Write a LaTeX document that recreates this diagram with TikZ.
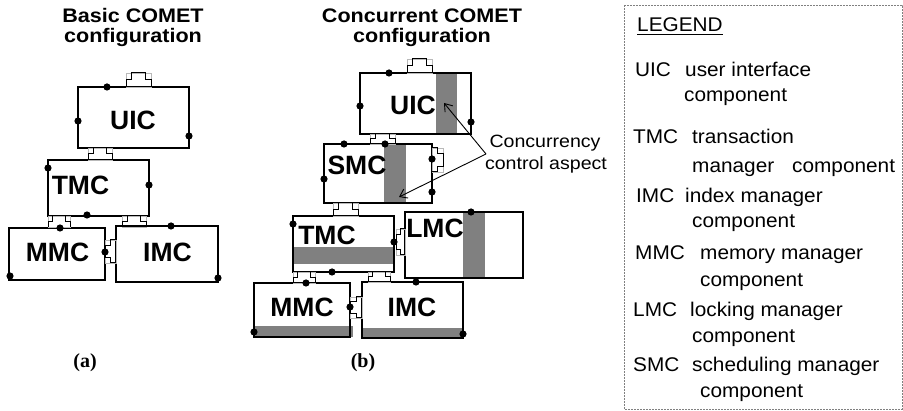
\documentclass[tikz,border=0pt]{standalone}
\usepackage{fontspec}
\usetikzlibrary{arrows.meta}
\newfontfamily\hvs[FakeStretch=1.1]{Liberation Sans}
\newfontfamily\hvl[FakeStretch=1.05]{Liberation Sans}
\newfontfamily\hvbox{Liberation Sans}
\newfontfamily\tms{Liberation Serif}
\definecolor{aspect}{RGB}{128,128,128}
\newcommand\plugup[4]{%
 \draw[plugbox] (#1,#3) rectangle (#2,#4);
 \draw[plugline] (#1,#4) -- (#1,{(#3+#4)/2}) -- ({#1+(#2-#1)*0.22},{(#3+#4)/2}) -- ({#1+(#2-#1)*0.22},#3) -- ({#2-(#2-#1)*0.22},#3) -- ({#2-(#2-#1)*0.22},{(#3+#4)/2}) -- (#2,{(#3+#4)/2}) -- (#2,#4);}
\newcommand\plugside[4]{%
 \draw[plugbox] (#1,#3) rectangle (#2,#4);
 \draw[plugline] (#1,#3) -- ({(#1+#2)/2},#3) -- ({(#1+#2)/2},{#3+(#4-#3)*0.22}) -- (#2,{#3+(#4-#3)*0.22}) -- (#2,{#4-(#4-#3)*0.22}) -- ({(#1+#2)/2},{#4-(#4-#3)*0.22}) -- ({(#1+#2)/2},#4) -- (#1,#4);}
\newcommand\compbox[5]{%
 \node[compst, minimum width={(#4-#2)*1pt}, minimum height={(#5-#3)*1pt}] (#1) at ({(#2+#4)/2},{(#3+#5)/2}) {};}
\newcommand\bdot[2]{\fill (#1,#2) circle (3.6pt);}
\begin{document}
\begin{tikzpicture}[x=1pt,y=-1pt,
  compst/.style={draw=black, line width=1.3pt, inner sep=0pt, outer sep=0pt},
  plugbox/.style={draw=gray!55, line width=0.5pt},
  plugline/.style={draw=black, line width=1pt},
  boxlabel/.style={font=\hvbox\bfseries\fontsize{26.5}{29}\selectfont, anchor=base, inner sep=0pt},
  title/.style={font=\hvs\bfseries\fontsize{19.6}{21}\selectfont, anchor=base, inner sep=0pt},
  legtext/.style={font=\hvl\fontsize{19.8}{21}\selectfont, anchor=base west, inner sep=0pt},
  sublabel/.style={font=\tms\bfseries\fontsize{20}{22}\selectfont, anchor=base, inner sep=0pt},
  aspectbar/.style={fill=aspect, draw=none}]
\useasboundingbox (0,0) rectangle (903,411);

% ---------- titles ----------
\node[title] (tA1) at (133,23) {Basic COMET};
\node[title] (tA2) at (133,43) {configuration};
\node[title] (tB1) at (422,23) {Concurrent COMET};
\node[title] (tB2) at (422,43) {configuration};

% ---------- (a) basic configuration ----------
\compbox{uicA}{78}{87}{189}{148}
\compbox{tmcA}{48}{160}{149}{216}
\compbox{mmcA}{9}{228}{105}{280}
\compbox{imcA}{116}{226}{218}{282}
\node[boxlabel] (uicAl) at (133,130) {UIC};
\node[boxlabel] (tmcAl) at (80.5,195) {TMC};
\node[boxlabel] (mmcAl) at (57.5,262) {MMC};
\node[boxlabel] (imcAl) at (167.5,262) {IMC};
\plugup{126}{151}{73}{87}
\plugup{88}{112}{148}{160}
\plugup{48}{70}{216}{227}
\plugup{122}{146}{216}{227}
\plugside{116}{105}{240}{263}
\bdot{107}{87}\bdot{78}{121}\bdot{189}{136}
\bdot{48}{168}\bdot{149}{185}\bdot{87}{215}
\bdot{60}{228}\bdot{105}{252}\bdot{10}{276}
\bdot{171}{226}\bdot{218}{278}
\node[sublabel] (subA) at (85,368) {(a)};

% ---------- (b) concurrent configuration ----------
\fill[aspectbar] (436,73) rectangle (457,134);
\fill[aspectbar] (384,144) rectangle (406,203);
\fill[aspectbar] (293,247) rectangle (394,264);
\fill[aspectbar] (463,212) rectangle (485,278);
\fill[aspectbar] (254,326) rectangle (353,337);
\fill[aspectbar] (362,328) rectangle (463,338);
\compbox{uicB}{360}{73}{471}{134}
\compbox{smcB}{324}{144}{432}{203}
\compbox{tmcB}{293}{216}{394}{272}
\compbox{lmcB}{405}{212}{523}{278}
\compbox{mmcB}{254}{283}{350}{337}
\compbox{imcB}{362}{282}{463}{338}
\node[boxlabel] (uicBl) at (413,115) {UIC};
\node[boxlabel] (smcBl) at (357,175) {SMC};
\node[boxlabel] (tmcBl) at (327,245) {TMC};
\node[boxlabel] (lmcBl) at (435,238) {LMC};
\node[boxlabel] (mmcBl) at (302,317) {MMC};
\node[boxlabel] (imcBl) at (412,317) {IMC};
\plugup{407}{432}{59}{73}
\plugup{370}{395}{134}{144}
\plugside{432}{443}{148}{172}
\plugup{333}{358}{203}{216}
\plugside{405}{396}{229}{255}
\plugup{293}{315}{272}{283}
\plugup{368}{390}{272}{282}
\plugside{362}{350}{297}{318}
\bdot{389}{73}\bdot{360}{106}\bdot{471}{122}
\bdot{344}{144}\bdot{385}{144}\bdot{324}{179}\bdot{432}{159}\bdot{432}{192}
\bdot{293}{224}\bdot{332}{272}\bdot{394}{242}
\bdot{471}{212}
\bdot{306}{283}\bdot{254}{332}\bdot{350}{307}
\bdot{416}{282}\bdot{463}{334}
\node[sublabel] (subB) at (363,368) {(b)};

% aspect annotation
\node[font=\hvs\fontsize{17.8}{20}\selectfont, anchor=base, inner sep=0pt] (cc1) at (545,148) {Concurrency};
\node[font=\hvs\fontsize{17.8}{20}\selectfont, anchor=base, inner sep=0pt] (cc2) at (546,170) {control aspect};
\coordinate (ccsrc) at (486,154);
\coordinate (ccU) at (444,103);
\coordinate (ccS) at (399,197);
\draw[line width=0.9pt, -{Straight Barb[length=7pt,width=10pt]}] (ccsrc) -- (ccU);
\draw[line width=0.9pt, -{Straight Barb[length=7pt,width=10pt]}] (ccsrc) -- (ccS);

% ---------- legend ----------
\draw[gray, line width=0.8pt, dash pattern=on 2pt off 1pt] (624,5) rectangle (902,409);
\node[legtext] (leg) at (637,32) {LEGEND};
\draw[line width=0.9pt] ([yshift=-2.5pt]leg.base west) -- ([yshift=-2.5pt]leg.base east);
\node[legtext] (l1a) at (635,77) {UIC};
\node[legtext] (l1b) at (685,77) {user interface};
\node[legtext] (l1c) at (684,102) {component};
\node[legtext] (l2a) at (633,144) {TMC};
\node[legtext] (l2b) at (692,144) {transaction};
\node[legtext] (l2c) at (692,173) {manager};
\node[legtext] (l2d) at (792,173) {component};
\node[legtext] (l3a) at (636,203) {IMC};
\node[legtext] (l3b) at (685,203) {index manager};
\node[legtext] (l3c) at (692,228) {component};
\node[legtext] (l4a) at (635,260) {MMC};
\node[legtext] (l4b) at (700,260) {memory manager};
\node[legtext] (l4c) at (700,287) {component};
\node[legtext] (l5a) at (633,317) {LMC};
\node[legtext] (l5b) at (690,317) {locking manager};
\node[legtext] (l5c) at (692,343) {component};
\node[legtext] (l6a) at (633,372) {SMC};
\node[legtext] (l6b) at (692,372) {scheduling manager};
\node[legtext] (l6c) at (700,398) {component};
\end{tikzpicture}
\end{document}
